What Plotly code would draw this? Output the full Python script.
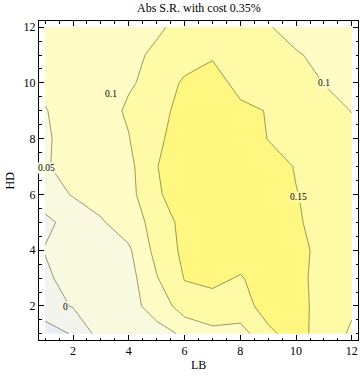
import plotly.graph_objects as go

# Grid axes
LB = [1, 2, 3, 4, 5, 6, 7, 8, 9, 10, 11, 12]
HD = [1, 2, 3, 4, 5, 6, 7, 8, 9, 10, 11, 12]

# Abs S.R. values, one row per HD value (HD=1 first), columns LB=1..12
sr_hd1 = [-0.075, -0.046, 0.02, 0.03, 0.04, 0.054, 0.09, 0.075, 0.145, 0.16, 0.138, 0.09]
sr_hd2 = [-0.02, 0.003, 0.02, 0.04, 0.062, 0.13, 0.125, 0.14, 0.16, 0.17, 0.128, 0.11]
sr_hd3 = [-0.0146, 0.0325, 0.03, 0.031, 0.097, 0.152, 0.165, 0.145, 0.18, 0.165, 0.13, 0.12]
sr_hd4 = [0.003, 0.028, 0.036, 0.0426, 0.116, 0.161, 0.18, 0.185, 0.18, 0.165, 0.135, 0.125]
sr_hd5 = [-0.013, 0.021, 0.045, 0.075, 0.118, 0.167, 0.185, 0.19, 0.18, 0.16, 0.12, 0.115]
sr_hd6 = [0.03, 0.053, 0.07, 0.085, 0.14, 0.19, 0.195, 0.19, 0.175, 0.151, 0.14, 0.13]
sr_hd7 = [0.045, 0.07, 0.08, 0.087, 0.148, 0.19, 0.19, 0.18, 0.165, 0.148, 0.135, 0.125]
sr_hd8 = [0.045, 0.065, 0.085, 0.0985, 0.14, 0.175, 0.18, 0.17, 0.149, 0.135, 0.122, 0.11]
sr_hd9 = [0.048, 0.068, 0.085, 0.105, 0.135, 0.165, 0.172, 0.16, 0.148, 0.135, 0.115, 0.099]
sr_hd10 = [0.06, 0.07, 0.08, 0.0965, 0.11, 0.16, 0.17, 0.135, 0.13, 0.12, 0.099, 0.088]
sr_hd11 = [0.072, 0.078, 0.085, 0.095, 0.1036, 0.12, 0.145, 0.14, 0.125, 0.104, 0.089, 0.078]
sr_hd12 = [0.07, 0.074, 0.08, 0.088, 0.097, 0.106, 0.118, 0.122, 0.103, 0.083, 0.075, 0.068]

# Contour levels
level_start = -0.05
level_end = 0.15
level_step = 0.05

# Contour labels (text, LB, HD)
label_texts = ["0", "0.05", "0.1", "0.1", "0.15"]
label_lb = [1.73, 1.05, 3.35, 11.0, 10.07]
label_hd = [1.98, 6.95, 9.6, 9.98, 5.92]

Z = [sr_hd1, sr_hd2, sr_hd3, sr_hd4, sr_hd5, sr_hd6,
     sr_hd7, sr_hd8, sr_hd9, sr_hd10, sr_hd11, sr_hd12]

band_colors = ["#E8ECF6", "#F3F4EC", "#FAFAE0", "#FFFCC6", "#FFFAA6", "#FFF780"]
label_bg = ["#F6F7E6", "#FAFAE0", "#FFFCC6", "#FFFCC6", "#FFF9A0"]

# stepwise colorscale: 6 bands whose midpoints sit at 0,0.2,...,1
cs = []
edges = [0, 0.1, 0.3, 0.5, 0.7, 0.9, 1.0]
for i, c in enumerate(band_colors):
    cs.append([edges[i], c])
    cs.append([edges[i + 1], c])

serif = "Liberation Serif, Times New Roman, serif"

fig = go.Figure()
fig.add_trace(go.Contour(
    x=LB, y=HD, z=Z,
    autocontour=False,
    contours=dict(start=level_start, end=level_end, size=level_step,
                  coloring="fill", showlines=True),
    colorscale=cs,
    showscale=False,
    line=dict(color="rgba(70,70,35,0.55)", width=1, smoothing=0),
    hoverinfo="skip",
))

for t, x, y, bg in zip(label_texts, label_lb, label_hd, label_bg):
    fig.add_annotation(x=x, y=y, xref="x", yref="y", text=t, showarrow=False,
                       font=dict(family=serif, size=9.5, color="black"),
                       bgcolor=bg, borderpad=0)

axis_common = dict(
    range=[0.78, 12.22],
    showgrid=False, zeroline=False,
    showline=True, linecolor="black", linewidth=1, mirror="ticks",
    ticks="inside", ticklen=5, tickcolor="black", tickwidth=1,
    tick0=0, dtick=2,
    tickfont=dict(family=serif, size=12, color="black"),
    minor=dict(ticks="inside", dtick=0.5, tick0=0, ticklen=2.5,
               tickcolor="black", tickwidth=1, showgrid=False),
)

fig.update_layout(
    width=360, height=380,
    margin=dict(l=39, r=2, t=21, b=40, autoexpand=False),
    paper_bgcolor="white", plot_bgcolor="white",
    xaxis=axis_common,
    yaxis=axis_common,
    showlegend=False,
)

fig.add_annotation(x=0.5, y=1, xref="paper", yref="paper", yshift=13,
                   yanchor="middle", showarrow=False,
                   text="Abs S.R. with cost 0.35%",
                   font=dict(family=serif, size=12, color="black"))
fig.add_annotation(x=0.5, y=0, xref="paper", yref="paper", yshift=-25,
                   yanchor="middle", showarrow=False, text="LB",
                   font=dict(family=serif, size=12, color="black"))
fig.add_annotation(x=0, y=0.5, xref="paper", yref="paper", xshift=-30,
                   xanchor="center", showarrow=False, text="HD", textangle=-90,
                   font=dict(family=serif, size=12, color="black"))

# remove the page's default body margin so the 360x380 figure fills the window
fig.write_html("out.html",
               config={"displayModeBar": False, "staticPlot": True},
               post_script="document.body.style.margin='0';"
                           "document.body.style.overflow='hidden';")
